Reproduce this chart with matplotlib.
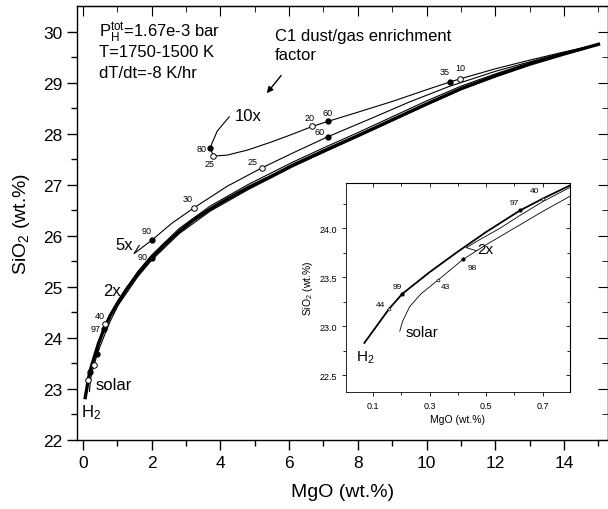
import matplotlib
matplotlib.use("Agg")
import matplotlib.pyplot as plt

plt.rcParams['font.family'] = ['Liberation Sans', 'DejaVu Sans']
plt.rcParams['mathtext.default'] = 'regular'

# ---- main panel curves (MgO wt.%, SiO2 wt.%) ----
h2_mgo = [0.07, 0.16, 0.2, 0.3, 0.45, 0.62, 0.8, 1.03, 1.3, 1.6, 2.0, 2.4, 2.8, 3.2, 3.7,
          4.2, 4.8, 5.5, 6.1, 7.0, 8.0, 9.0, 10.0, 11.0, 12.0, 13.0, 14.0, 15.0]
h2_sio2 = [22.83, 23.18, 23.33, 23.55, 23.88, 24.18, 24.44, 24.7, 24.98, 25.25, 25.57, 25.84, 26.08, 26.3, 26.52,
           26.72, 26.94, 27.17, 27.38, 27.66, 27.96, 28.27, 28.58, 28.88, 29.13, 29.36, 29.56, 29.75]

x2_mgo = [0.465, 0.43, 0.47, 0.55, 0.65, 0.8, 1.03, 1.6, 2.0, 2.8, 3.7, 4.8, 6.1, 7.0, 8.0,
          9.0, 10.0, 11.0, 12.0, 13.0, 14.0, 15.0]
x2_sio2 = [23.77, 23.8, 23.87, 24.02, 24.24, 24.47, 24.74, 25.3, 25.62, 26.14, 26.58, 27.0, 27.44, 27.72, 28.02,
           28.33, 28.64, 28.93, 29.17, 29.39, 29.58, 29.75]

solar_mgo = [0.195, 0.205, 0.23, 0.27, 0.33, 0.418, 0.5, 0.6, 0.7, 0.8, 1.03, 1.6, 2.0, 2.8, 3.7,
             4.8, 6.1, 7.0, 8.0, 9.0, 10.0, 11.0, 12.0, 13.0, 14.0, 15.0]
solar_sio2 = [22.95, 23.05, 23.2, 23.33, 23.47, 23.68, 23.83, 24.0, 24.17, 24.33, 24.64, 25.2, 25.52, 26.04, 26.48,
              26.9, 27.35, 27.63, 27.94, 28.25, 28.56, 28.86, 29.12, 29.35, 29.56, 29.75]

x5_mgo = [1.64, 1.49, 2.0, 2.6, 3.24, 4.2, 5.21, 6.2, 7.13, 8.5, 9.5, 10.68, 12.0, 13.5, 15.0]
x5_sio2 = [25.81, 25.65, 25.91, 26.25, 26.55, 26.97, 27.33, 27.65, 27.94, 28.33, 28.62, 28.93, 29.22, 29.5, 29.75]

x10_mgo = [4.26, 3.91, 3.75, 3.71, 3.8, 4.2, 4.8, 5.5, 6.1, 6.67, 7.13, 8.0, 9.0, 10.0, 10.67,
           10.96, 12.0, 13.0, 14.0, 15.0]
x10_sio2 = [28.33, 28.05, 27.8, 27.72, 27.56, 27.58, 27.68, 27.84, 27.99, 28.14, 28.24, 28.42, 28.63, 28.86, 29.01,
            29.07, 29.27, 29.44, 29.6, 29.75]

# temperature-step markers: (label, x, y, label x, label y)
filled_pts = [("80", 3.71, 27.72, 3.46, 27.71), ("60", 7.13, 28.24, 7.13, 28.42),
              ("35", 10.67, 29.01, 10.53, 29.22), ("90", 2.0, 25.91, 1.87, 26.11),
              ("60", 7.13, 27.94, 6.9, 28.04), ("90", 2.02, 25.57, 1.75, 25.6),
              ("97", 0.61, 24.18, 0.36, 24.18), ("", 0.2, 23.34, 0, 0), ("", 0.42, 23.68, 0, 0)]
open_pts = [("25", 3.8, 27.56, 3.7, 27.42), ("20", 6.67, 28.14, 6.61, 28.32),
            ("10", 10.96, 29.07, 10.97, 29.3), ("30", 3.24, 26.55, 3.06, 26.72),
            ("25", 5.21, 27.33, 4.95, 27.46), ("40", 0.65, 24.28, 0.5, 24.43),
            ("", 0.158, 23.18, 0, 0), ("", 0.33, 23.47, 0, 0)]

# ---- inset curves ----
in_h2_mgo = [0.07, 0.158, 0.204, 0.3, 0.4, 0.5, 0.62, 0.7, 0.8]
in_h2_sio2 = [22.83, 23.18, 23.33, 23.55, 23.76, 23.96, 24.18, 24.3, 24.44]
in_2x_mgo = [0.465, 0.43, 0.47, 0.55, 0.62, 0.7, 0.8]
in_2x_sio2 = [23.77, 23.8, 23.87, 24.0, 24.13, 24.27, 24.42]
in_sol_mgo = [0.195, 0.205, 0.23, 0.27, 0.33, 0.418, 0.5, 0.6, 0.7, 0.8]
in_sol_sio2 = [22.95, 23.05, 23.2, 23.33, 23.47, 23.68, 23.83, 24.0, 24.17, 24.33]
in_filled = [("99", 0.204, 23.33, 0.186, 23.4), ("97", 0.62, 24.18, 0.6, 24.26),
             ("98", 0.418, 23.68, 0.45, 23.6)]
in_open = [("44", 0.158, 23.18, 0.126, 23.22), ("43", 0.33, 23.47, 0.355, 23.4),
           ("40", 0.7, 24.3, 0.67, 24.38)]

fig = plt.figure(figsize=(6.08, 5.10), dpi=100)
ax = fig.add_axes([0.1266, 0.1353, 0.873, 0.851])

ax.plot(h2_mgo, h2_sio2, color='black', lw=2.4)
for xs, ys in [(x2_mgo, x2_sio2), (solar_mgo, solar_sio2), (x5_mgo, x5_sio2), (x10_mgo, x10_sio2)]:
    ax.plot(xs, ys, color='black', lw=0.8)

for lab, x, y, lx, ly in filled_pts:
    ax.plot(x, y, 'o', ms=3.5, color='black')
    if lab:
        ax.text(lx, ly, lab, fontsize=6.5, ha='center', va='center')
for lab, x, y, lx, ly in open_pts:
    ax.plot(x, y, 'o', ms=4, mfc='white', mec='black', mew=0.7)
    if lab:
        ax.text(lx, ly, lab, fontsize=6.5, ha='center', va='center')

ax.text(4.42, 28.36, "10x", fontsize=12, va='center')
ax.text(0.94, 25.83, "5x", fontsize=12, va='center')
ax.text(0.59, 24.92, "2x", fontsize=12, va='center')
ax.text(0.36, 23.08, "solar", fontsize=12, va='center')
ax.text(-0.06, 22.55, "H$_2$", fontsize=12, va='center')

ax.text(0.47, 29.99, "P$_H^{tot}$=1.67e-3 bar", fontsize=12, va='center')
ax.text(0.47, 29.6, "T=1750-1500 K", fontsize=12, va='center')
ax.text(0.47, 29.2, "dT/dt=-8 K/hr", fontsize=12, va='center')
ax.text(5.59, 29.93, "C1 dust/gas enrichment", fontsize=12, va='center')
ax.text(5.59, 29.55, "factor", fontsize=12, va='center')
ax.annotate("", xy=(5.3, 28.75), xytext=(5.82, 29.18),
            arrowprops=dict(arrowstyle='-|>', color='black', lw=1.0, mutation_scale=9))

ax.set_xlim(-0.17, 15.27)
ax.set_ylim(22, 30.5)
ax.set_xticks(range(0, 16, 2))
ax.set_xticks(range(1, 16, 2), minor=True)
ax.set_yticks(range(22, 31))
ax.set_yticks([22.5 + i for i in range(8)], minor=True)
ax.tick_params(which='major', length=7, width=1, labelsize=12.5)
ax.tick_params(which='minor', length=4, width=1)
ax.set_xlabel("MgO (wt.%)", fontsize=14, labelpad=10)
ax.set_ylabel("SiO$_2$ (wt.%)", fontsize=14, labelpad=8)
for s in ax.spines.values():
    s.set_linewidth(1.0)

top = ax.secondary_xaxis('top')
top.set_xticks(range(0, 16, 2))
top.set_xticks(range(1, 16, 2), minor=True)
top.tick_params(which='both', direction='in', labeltop=False)
top.tick_params(which='major', length=7)
top.tick_params(which='minor', length=4)
right = ax.secondary_yaxis('right')
right.set_yticks(range(22, 31))
right.set_yticks([22.5 + i for i in range(8)], minor=True)
right.tick_params(which='both', direction='in', labelright=False)
right.tick_params(which='major', length=7)
right.tick_params(which='minor', length=4)

# ---- inset ----
ins = fig.add_axes([0.569, 0.2294, 0.368, 0.41])
ins.plot(in_h2_mgo, in_h2_sio2, color='black', lw=1.3)
ins.plot(in_2x_mgo, in_2x_sio2, color='black', lw=0.6)
ins.plot(in_sol_mgo, in_sol_sio2, color='black', lw=0.6)
for lab, x, y, lx, ly in in_filled:
    ins.plot(x, y, 'o', ms=2, color='black')
    ins.text(lx, ly, lab, fontsize=6, ha='center', va='center')
for lab, x, y, lx, ly in in_open:
    ins.plot(x, y, 'o', ms=2, mfc='white', mec='black', mew=0.5)
    ins.text(lx, ly, lab, fontsize=6, ha='center', va='center')
ins.text(0.47, 23.79, "2x", fontsize=11, va='center')
ins.text(0.214, 22.94, "solar", fontsize=11, va='center')
ins.text(0.04, 22.69, "H$_2$", fontsize=11, va='center')

ins.set_xlim(0.005, 0.795)
ins.set_ylim(22.33, 24.46)
ins.set_xticks([0.1, 0.3, 0.5, 0.7])
ins.set_xticks([0.2, 0.4, 0.6], minor=True)
ins.set_yticks([22.5, 23.0, 23.5, 24.0])
ins.set_yticks([22.75, 23.25, 23.75, 24.25], minor=True)
ins.set_xticklabels(["0.1", "0.3", "0.5", "0.7"])
ins.set_yticklabels(["22.5", "23.0", "23.5", "24.0"])
ins.tick_params(which='major', length=3, width=0.6, labelsize=6.5)
ins.tick_params(which='minor', length=2, width=0.6)
ins.set_xlabel("MgO (wt.%)", fontsize=7.5, labelpad=3)
ins.set_ylabel("SiO$_2$ (wt.%)", fontsize=7.5, labelpad=3)
for s in ins.spines.values():
    s.set_linewidth(0.6)

itop = ins.secondary_xaxis('top')
itop.set_xticks([0.1, 0.3, 0.5, 0.7])
itop.set_xticks([0.2, 0.4, 0.6], minor=True)
itop.tick_params(which='both', direction='in', labeltop=False, width=0.6)
itop.tick_params(which='major', length=3)
itop.tick_params(which='minor', length=2)
iright = ins.secondary_yaxis('right')
iright.set_yticks([22.5, 23.0, 23.5, 24.0])
iright.set_yticks([22.75, 23.25, 23.75, 24.25], minor=True)
iright.tick_params(which='both', direction='in', labelright=False, width=0.6)
iright.tick_params(which='major', length=3)
iright.tick_params(which='minor', length=2)

fig.savefig("out.png", dpi=100)
